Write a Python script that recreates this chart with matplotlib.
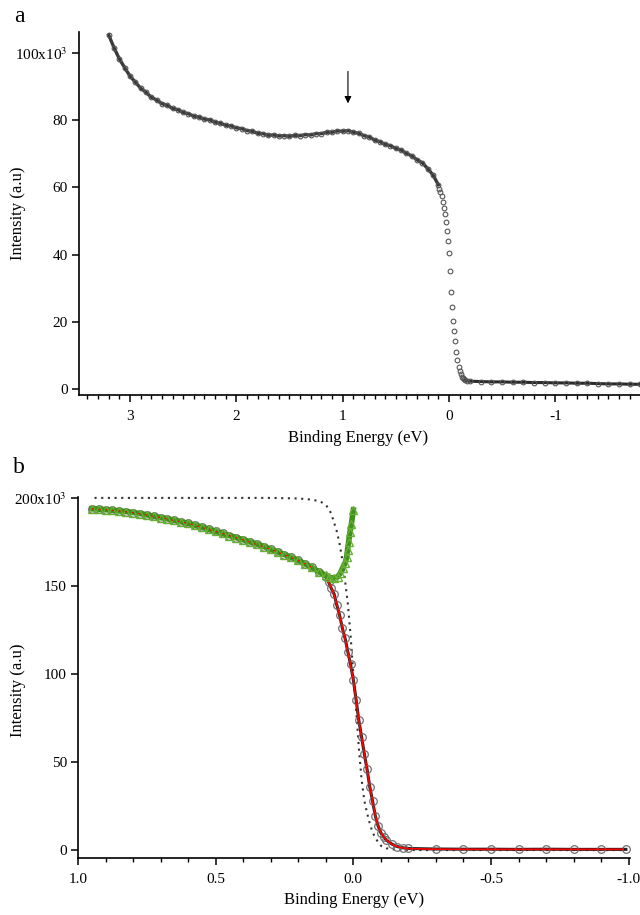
import matplotlib
matplotlib.use('Agg')
import matplotlib.pyplot as plt
from matplotlib.ticker import MultipleLocator, FixedLocator, FixedFormatter

plt.rcParams['font.family'] = ['Liberation Serif', 'DejaVu Serif']
plt.rcParams['mathtext.fontset'] = 'stix'
plt.rcParams['axes.unicode_minus'] = False

# --- pannello a: spettro di valenza ---
energia_a = [3.20, 3.15, 3.10, 3.05, 3.00, 2.95, 2.90, 2.85, 2.80, 2.75, 2.70, 2.65, 2.60, 2.55,
             2.50, 2.45, 2.40, 2.35, 2.30, 2.25, 2.20, 2.15, 2.10, 2.05, 2.00, 1.95, 1.90, 1.85,
             1.80, 1.75, 1.70, 1.65, 1.60, 1.55, 1.50, 1.45, 1.40, 1.35, 1.30, 1.25, 1.20, 1.15,
             1.10, 1.05, 1.00, 0.95, 0.90, 0.85, 0.80, 0.75, 0.70, 0.65, 0.60, 0.55, 0.50, 0.45,
             0.40, 0.35, 0.30, 0.25, 0.20, 0.15, 0.10,
             0.09, 0.08, 0.07, 0.06, 0.05, 0.04, 0.03, 0.02, 0.01, 0.00, -0.01, -0.02, -0.03,
             -0.04, -0.05, -0.06, -0.07, -0.08, -0.09, -0.10, -0.11, -0.12, -0.13, -0.14, -0.15,
             -0.17, -0.20, -0.30, -0.40, -0.50, -0.60, -0.70, -0.80, -0.90, -1.00, -1.10, -1.20,
             -1.30, -1.40, -1.50, -1.60, -1.70, -1.80]
intensita_a = [105.3, 101.5, 98.2, 95.6, 93.1, 91.3, 89.5, 88.3, 86.8, 86.0, 84.9, 84.4, 83.5, 83.1,
               82.3, 81.9, 81.2, 80.9, 80.3, 80.1, 79.4, 79.1, 78.5, 78.3, 77.7, 77.5, 76.9, 76.7,
               76.1, 76.0, 75.5, 75.6, 75.3, 75.4, 75.2, 75.5, 75.4, 75.7, 75.6, 76.0, 76.0, 76.4,
               76.4, 76.8, 76.7, 76.9, 76.4, 76.1, 75.4, 75.0, 74.1, 73.6, 72.8, 72.4, 71.6, 71.1,
               70.1, 69.4, 68.2, 67.3, 65.6, 63.7, 60.8,
               59.6, 58.6, 57.4, 55.8, 54.0, 52.0, 49.6, 47.2, 44.2, 40.6, 35.2, 29.0, 24.4,
               20.2, 17.2, 14.4, 11.2, 8.6, 6.7, 5.4, 4.4, 3.7, 3.3, 3.0, 2.8,
               2.6, 2.4, 2.3, 2.2, 2.2, 2.1, 2.1, 2.0, 2.0, 1.9, 1.9, 1.8,
               1.8, 1.7, 1.6, 1.6, 1.5, 1.5]

# --- pannello b: bordo di Fermi ---
energia_liscia = [0.950, 0.925, 0.900, 0.875, 0.850, 0.825, 0.800, 0.775, 0.750, 0.725, 0.700,
                  0.675, 0.650, 0.625, 0.600, 0.575, 0.550, 0.525, 0.500, 0.475, 0.450, 0.425,
                  0.400, 0.375, 0.350, 0.325, 0.300, 0.275, 0.250, 0.225, 0.200, 0.175, 0.150,
                  0.125]
intensita_liscia = [193.8, 193.6, 193.3, 193.0, 192.6, 192.2, 191.7, 191.1, 190.4, 189.6, 188.8,
                    188.1, 187.3, 186.4, 185.5, 184.5, 183.4, 182.2, 181.0, 179.8, 178.6, 177.4,
                    176.2, 175.0, 173.8, 172.4, 170.8, 169.3, 167.8, 166.2, 164.5, 162.5, 160.5,
                    158.0]

energia_bordo = [0.10, 0.09, 0.08, 0.07, 0.06, 0.05, 0.04, 0.03, 0.02, 0.01, 0.00, -0.01, -0.02,
                 -0.03, -0.04, -0.05, -0.06, -0.07, -0.08, -0.09, -0.10, -0.11, -0.12, -0.14,
                 -0.16, -0.18, -0.20, -0.30, -0.40, -0.50, -0.60, -0.70, -0.80, -0.90, -0.99]
intensita_bordo = [155.0, 152.3, 148.6, 145.5, 139.2, 133.4, 126.2, 120.3, 112.6, 105.4, 96.8,
                   85.4, 73.6, 64.3, 54.6, 45.8, 35.7, 27.8, 19.3, 13.7, 9.8, 7.6, 5.6, 3.4,
                   2.0, 1.3, 0.9, 0.6, 0.5, 0.5, 0.4, 0.5, 0.4, 0.4, 0.4]

energia_fit = [0.95, 0.90, 0.80, 0.70, 0.60, 0.50, 0.40, 0.30, 0.20, 0.15, 0.10, 0.09, 0.08, 0.07,
               0.06, 0.05, 0.04, 0.03, 0.02, 0.01, 0.00, -0.01, -0.02, -0.03, -0.04, -0.05,
               -0.06, -0.07, -0.08, -0.09, -0.10, -0.11, -0.12, -0.14, -0.16, -0.18, -0.20,
               -0.30, -0.50, -0.98]
intensita_fit = [193.8, 193.3, 191.7, 188.8, 185.5, 181.0, 176.2, 170.8, 164.5, 160.5, 155.0,
                 152.0, 149.0, 145.0, 139.5, 133.0, 126.5, 119.5, 112.5, 105.0, 96.5, 85.0,
                 74.0, 64.0, 55.0, 45.5, 36.0, 27.5, 19.5, 13.5, 10.0, 7.5, 5.7, 3.3, 1.9, 1.2,
                 0.8, 0.5, 0.4, 0.4]

energia_fermi = [0.94, 0.30, 0.20, 0.15, 0.12, 0.10, 0.09, 0.08, 0.07, 0.06, 0.05, 0.04, 0.03,
                 0.02, 0.01, 0.00, -0.01, -0.02, -0.03, -0.04, -0.05, -0.06, -0.07, -0.08,
                 -0.09, -0.10, -0.12, -0.15, -0.20, -0.98]
intensita_fermi = [200, 200, 199.7, 199, 198, 196, 194, 191, 186, 181, 174, 165, 153, 140, 122,
                   100, 80, 58, 40, 28, 21, 15, 10, 7, 4.5, 2.5, 1, 0.3, 0, 0]

# dati divisi per la funzione di Fermi: coda che risale vicino a 0 eV
energia_coda = [0.100, 0.088, 0.069, 0.057, 0.047, 0.039, 0.030, 0.024, 0.021, 0.017, 0.012,
                0.007, 0.000]
intensita_coda = [156.0, 154.8, 154.5, 155.1, 157.4, 160.2, 163.0, 166.5, 170.5, 175.0, 180.7,
                  185.2, 193.2]

energia_b = energia_liscia + energia_bordo
intensita_b = intensita_liscia + intensita_bordo
energia_div = energia_liscia + energia_coda
intensita_div = intensita_liscia + intensita_coda

fig = plt.figure(figsize=(6.4, 9.15), dpi=100)

# ---------------- a ----------------
ax = fig.add_axes([0.1234, 0.5683, 0.8766, 0.3967])
n_liscio = 63  # punti prima del bordo
ax.plot(energia_a[:n_liscio], intensita_a[:n_liscio], '-', color='#3a3a3a', lw=2.4, zorder=2)
ax.plot(energia_a[n_liscio + 24:], intensita_a[n_liscio + 24:], '-', color='#2a2a2a', lw=2.2,
        zorder=2)
ax.plot(energia_a, intensita_a, 'o', ms=3.4, mfc='none', mec='#555555', mew=0.8, zorder=3)
ax.annotate('', xy=(0.95, 85.0), xytext=(0.95, 94.5),
            arrowprops=dict(arrowstyle='-|>', color='black', lw=0.8, mutation_scale=10,
                            shrinkA=0, shrinkB=0))
ax.set_xlim(3.48, -1.797)
ax.set_ylim(-1.7, 106.2)
ax.xaxis.set_major_locator(FixedLocator([3, 2, 1, 0, -1]))
ax.xaxis.set_minor_locator(MultipleLocator(0.1))
ax.yaxis.set_major_locator(FixedLocator([0, 20, 40, 60, 80, 100]))
ax.yaxis.set_major_formatter(FixedFormatter(['0', '20', '40', '60', '80', r'100x10$^3$']))
ax.set_xlabel('Binding Energy (eV)', fontsize=12)
ax.set_ylabel('Intensity (a.u)', fontsize=12)
ax.xaxis.set_label_coords(0.497, -0.118)
ax.xaxis.label.set_va('center')
ax.yaxis.set_label_coords(-0.109, 0.5)
ax.yaxis.label.set_va('center')
fig.text(0.03, 0.982, 'a', fontsize=17, va='center', ha='center')

# ---------------- b ----------------
bx = fig.add_axes([0.1219, 0.0623, 0.8625, 0.3945])
bx.plot(energia_fermi, intensita_fermi, color='#333333', lw=1.5, dashes=(1.0, 2.2), zorder=2,
        clip_on=False)
bx.plot(energia_b, intensita_b, '-', color='#222222', lw=2.2, zorder=3)
bx.plot(energia_b, intensita_b, 'o', ms=5.5, mfc='none', mec='#707070', mew=0.9, zorder=3)
bx.plot(energia_fit, intensita_fit, '-', color='red', lw=1.2, zorder=4)
bx.plot(energia_div, intensita_div, '-', color='#3f8f1d', lw=4.0, zorder=5)
bx.plot(energia_div, intensita_div, '^', ms=6, mfc='none', mec='#68b034', mew=1.0, zorder=5)
bx.plot(energia_fit[:10], intensita_fit[:10], '--', color='red', lw=0.8, dashes=(2, 4), zorder=6)
bx.set_xlim(1.0, -1.005)
bx.set_ylim(-4.5, 200.5)
bx.xaxis.set_major_locator(FixedLocator([1.0, 0.5, 0.0, -0.5, -1.0]))
bx.xaxis.set_major_formatter(FixedFormatter(['1.0', '0.5', '0.0', '-0.5', '-1.0']))
bx.xaxis.set_minor_locator(MultipleLocator(0.1))
bx.yaxis.set_major_locator(FixedLocator([0, 50, 100, 150, 200]))
bx.yaxis.set_major_formatter(FixedFormatter(['0', '50', '100', '150', r'200x10$^3$']))
bx.set_xlabel('Binding Energy (eV)', fontsize=12)
bx.set_ylabel('Intensity (a.u)', fontsize=12)
bx.xaxis.set_label_coords(0.5, -0.116)
bx.xaxis.label.set_va('center')
bx.yaxis.set_label_coords(-0.109, 0.465)
bx.yaxis.label.set_va('center')
fig.text(0.03, 0.4896, 'b', fontsize=17, va='center', ha='center')

for a in (ax, bx):
    a.spines['top'].set_visible(False)
    a.spines['right'].set_visible(False)
    a.spines['left'].set_linewidth(1.2)
    a.spines['bottom'].set_linewidth(1.2)
    a.tick_params(axis='both', which='major', direction='out', length=5, width=1.1,
                  labelsize=11, pad=3)
    a.tick_params(axis='x', which='major', pad=6)
    a.tick_params(axis='x', which='minor', direction='out', length=3, width=1.0)
    a.tick_params(axis='y', which='minor', left=False)

fig.savefig('out.png', dpi=100)
